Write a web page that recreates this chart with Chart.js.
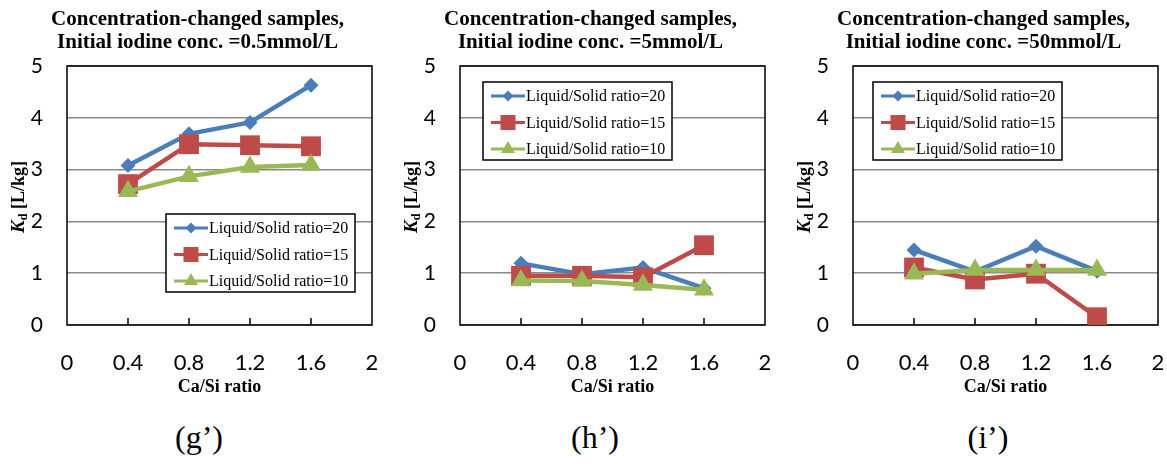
<!DOCTYPE html>
<html>
<head>
<meta charset="utf-8">
<script src="https://cdn.jsdelivr.net/npm/chart.js@4.4.1/dist/chart.umd.min.js"></script>
<style>
    body { margin: 0; background: #fff; width: 1167px; height: 466px; position: relative; overflow: hidden; }
    .panel { position: absolute; top: 0; width: 381px; height: 400px; }
    .cap { position: absolute; top: 421px; font-family: 'Liberation Serif', 'Times New Roman', serif; font-size: 32px; line-height: 1; transform: translateX(-50%); }
</style>
</head>
<body>
<div class="panel" style="left:0px"><canvas id="chartG" width="381" height="400"></canvas></div>
<div class="panel" style="left:393px"><canvas id="chartH" width="381" height="400"></canvas></div>
<div class="panel" style="left:786px"><canvas id="chartI" width="381" height="400"></canvas></div>
<div class="cap" style="left:199px">(g’)</div>
<div class="cap" style="left:595px">(h’)</div>
<div class="cap" style="left:988px">(i’)</div>

<script>
// Ca/Si ratios of the samples (x)
const caSiRatio = [0.4, 0.8, 1.2, 1.6];
const xTickValues = [0, 0.4, 0.8, 1.2, 1.6, 2];
const yTickValues = [0, 1, 2, 3, 4, 5];
const seriesNames = ['Liquid/Solid ratio=20', 'Liquid/Solid ratio=15', 'Liquid/Solid ratio=10'];

// Kd [L/kg]
const kdG20 = [3.08, 3.69, 3.91, 4.63];
const kdG15 = [2.72, 3.49, 3.47, 3.45];
const kdG10 = [2.58, 2.87, 3.05, 3.09];

const kdH20 = [1.19, 0.98, 1.11, 0.71];
const kdH15 = [0.95, 0.95, 0.92, 1.54];
const kdH10 = [0.86, 0.85, 0.77, 0.68];

const kdI20 = [1.45, 1.03, 1.52, 1.04];
const kdI15 = [1.11, 0.88, 0.99, 0.15];
const kdI10 = [0.99, 1.06, 1.06, 1.06];

const titleLine1 = 'Concentration-changed samples,';
const concLabels = ['Initial iodine conc. =0.5mmol/L', 'Initial iodine conc. =5mmol/L', 'Initial iodine conc. =50mmol/L'];

const colors = ['#4A7EBB', '#BE4B48', '#98B954'];
const styles = ['rectRot', 'rect', 'triangle'];
const serif = "'Liberation Serif', 'Times New Roman', serif";

function drawMarker(ctx, style, x, y, r, color) {
    ctx.fillStyle = color;
    ctx.beginPath();
    if (style === 'rectRot') {
        ctx.moveTo(x, y - r); ctx.lineTo(x + r, y); ctx.lineTo(x, y + r); ctx.lineTo(x - r, y);
    } else if (style === 'rect') {
        ctx.rect(x - r, y - r, 2 * r, 2 * r);
    } else {
        ctx.moveTo(x, y - r); ctx.lineTo(x + r * 0.87, y + r * 0.5); ctx.lineTo(x - r * 0.87, y + r * 0.5);
    }
    ctx.closePath();
    ctx.fill();
}

const panelDecor = {
    id: 'panelDecor',
    beforeDatasetsDraw(chart) {
        const ctx = chart.ctx, a = chart.chartArea, xs = chart.scales.x;
        ctx.save();
        ctx.strokeStyle = '#000';
        ctx.lineWidth = 1.5;
        ctx.strokeRect(a.left, a.top, a.right - a.left, a.bottom - a.top);
        // inside tick marks on x axis
        ctx.beginPath();
        caSiRatio.forEach(v => {
            const px = xs.getPixelForValue(v);
            ctx.moveTo(px, a.bottom);
            ctx.lineTo(px, a.bottom - 7);
        });
        ctx.stroke();
        ctx.restore();
    },
    afterDraw(chart, args, opts) {
        const ctx = chart.ctx, a = chart.chartArea;
        ctx.save();
        // title
        ctx.fillStyle = '#000';
        ctx.font = 'bold 21px ' + serif;
        ctx.textAlign = 'center';
        ctx.textBaseline = 'middle';
        const cx = (a.left + a.right) / 2 - 22;
        ctx.fillText(titleLine1, cx, 20);
        ctx.fillText(opts.conc, cx, 43);

        // y axis title: K_d [L/kg]
        ctx.save();
        ctx.translate(18, 197);
        ctx.rotate(-Math.PI / 2);
        ctx.textAlign = 'left';
        ctx.textBaseline = 'alphabetic';
        const fK = 'italic bold 19px ' + serif, fd = 'bold 12px ' + serif, fr = 'bold 18px ' + serif;
        ctx.font = fK; const wK = ctx.measureText('K').width;
        ctx.font = fd; const wd = ctx.measureText('d').width;
        ctx.font = fr; const wr = ctx.measureText(' [L/kg]').width;
        let tx = -(wK + wd + wr) / 2;
        ctx.font = fK; ctx.fillText('K', tx, 6); tx += wK;
        ctx.font = fd; ctx.fillText('d', tx, 9); tx += wd;
        ctx.font = fr; ctx.fillText(' [L/kg]', tx, 6);
        ctx.restore();

        // legend box
        const lx = a.left + opts.legendX, ly = a.top + opts.legendY;
        ctx.fillStyle = '#fff';
        ctx.fillRect(lx, ly, 189, 78);
        ctx.strokeStyle = '#000';
        ctx.lineWidth = 1.5;
        ctx.strokeRect(lx, ly, 189, 78);
        const mr = [5.5, 7.5, 8];
        seriesNames.forEach((name, i) => {
            const y = ly + 14 + i * 26.5;
            ctx.strokeStyle = colors[i];
            ctx.lineWidth = 3;
            ctx.beginPath();
            ctx.moveTo(lx + 8, y);
            ctx.lineTo(lx + 42, y);
            ctx.stroke();
            drawMarker(ctx, styles[i], lx + 25, y, mr[i], colors[i]);
            ctx.fillStyle = '#000';
            ctx.font = '16px ' + serif;
            ctx.textAlign = 'left';
            ctx.textBaseline = 'middle';
            ctx.fillText(name, lx + 43, y + 1);
        });
        ctx.restore();
    }
};

function makeChart(id, conc, s20, s15, s10, legendX, legendY) {
    const series = [s20, s15, s10];
    const radii = [7.5, 14, 11.5];
    new Chart(document.getElementById(id), {
        type: 'line',
        data: {
            datasets: series.map((vals, i) => ({
                label: seriesNames[i],
                data: caSiRatio.map((x, j) => ({ x: x, y: vals[j] })),
                borderColor: colors[i],
                backgroundColor: colors[i],
                pointBackgroundColor: colors[i],
                pointBorderColor: colors[i],
                borderWidth: 4.5,
                pointStyle: styles[i],
                pointRadius: radii[i],
                pointBorderWidth: 0,
                order: 2 - i
            }))
        },
        options: {
            responsive: false,
            animation: false,
            layout: { autoPadding: false, padding: { left: 0, right: 9, top: 66, bottom: 0 } },
            plugins: {
                legend: { display: false },
                tooltip: { enabled: false },
                panelDecor: { conc: conc, legendX: legendX, legendY: legendY }
            },
            scales: {
                x: {
                    type: 'linear',
                    min: 0,
                    max: 2,
                    afterBuildTicks: s => { s.ticks = xTickValues.map(v => ({ value: v })); },
                    afterFit: s => { s.height = 75; s.paddingLeft = 0; s.paddingRight = 0; },
                    grid: { display: false, drawTicks: false },
                    border: { display: false },
                    ticks: {
                        padding: 25,
                        color: '#000',
                        maxRotation: 0,
                        autoSkip: false,
                        font: { family: 'Lato, sans-serif', size: 22 },
                        callback: v => String(v)
                    },
                    title: {
                        display: true,
                        text: 'Ca/Si ratio',
                        color: '#000',
                        font: { family: serif, size: 18, weight: 'bold' },
                        padding: { top: 0, bottom: 2 }
                    }
                },
                y: {
                    min: 0,
                    max: 5,
                    afterBuildTicks: s => { s.ticks = yTickValues.map(v => ({ value: v })); },
                    afterFit: s => { s.width = 67; s.paddingTop = 0; s.paddingBottom = 0; },
                    grid: { color: '#8a8a8a', lineWidth: 1.5, drawTicks: false },
                    border: { display: false },
                    ticks: {
                        padding: 24,
                        color: '#000',
                        font: { family: 'Lato, sans-serif', size: 21 }
                    }
                }
            }
        },
        plugins: [panelDecor]
    });
}

makeChart('chartG', concLabels[0], kdG20, kdG15, kdG10, 99, 148);
makeChart('chartH', concLabels[1], kdH20, kdH15, kdH10, 23, 16);
makeChart('chartI', concLabels[2], kdI20, kdI15, kdI10, 20, 16);
</script>
</body>
</html>
